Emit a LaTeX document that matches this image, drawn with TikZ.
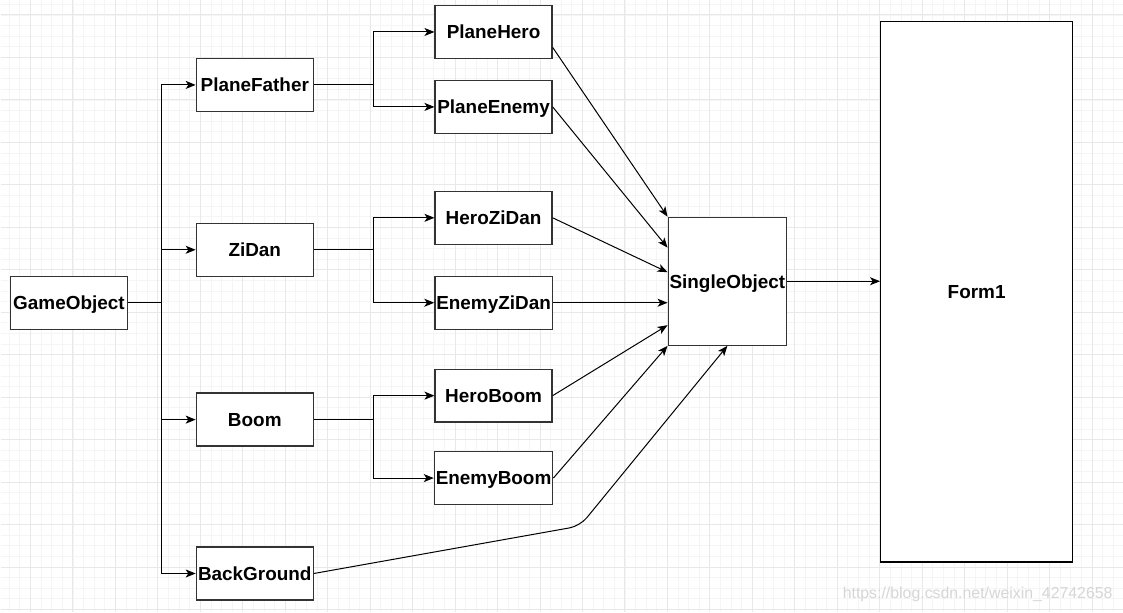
\documentclass[tikz,border=0pt]{standalone}
\usepackage{fontspec}
\setmainfont{Liberation Sans}
\usetikzlibrary{shapes, positioning, arrows.meta, calc}

\begin{document}
\begin{tikzpicture}[x=0.75pt, y=-0.75pt, line width=0.75pt,
        >={Stealth[length=7.5pt, width=6pt, inset=2pt]},
        main/.style = {draw=black!80, line width=1pt, fill=white,
                        minimum width=87.75pt, minimum height=39.75pt, inner sep=1pt,
                        text height=10.2pt, text depth=0pt,
                        font=\fontsize{14.2}{17}\selectfont\bfseries},
        gridminor/.style = {draw=black!4, line width=0.6pt},
        gridmajor/.style = {draw=black!9, line width=0.75pt}]
        % paper with grid
        \fill[white] (0,0) rectangle (1123,612);
        \foreach \i in {0,...,104} \draw[gridminor] ({8.75+10.625*\i},0) -- ++(0,612);
        \foreach \i in {0,...,57} \draw[gridminor] (0,{3.875+10.625*\i}) -- ++(1123,0);
        \foreach \i in {0,...,25} \draw[gridmajor] ({30+42.5*\i},0) -- ++(0,612);
        \foreach \i in {0,...,14} \draw[gridmajor] (0,{14.5+42.5*\i}) -- ++(1123,0);

        \node[main] (GameObject) at (68.5,302.5) {GameObject};

        \node[main] (PlaneFather) at (254.5,84.5) {PlaneFather};
        \node[main] (ZiDan) at (254.5,249.5) {ZiDan};
        \node[main] (Boom) at (254.5,419.5) {Boom};
        \node[main] (BackGround) at (254.5,573.5) {BackGround};

        \node[main] (PlaneHero) at (493.5,31.5) {PlaneHero};
        \node[main] (PlaneEnemy) at (493.5,106.5) {PlaneEnemy};
        \node[main] (HeroZiDan) at (493.5,217.5) {HeroZiDan};
        \node[main] (EnemyZiDan) at (493.5,302.5) {EnemyZiDan};
        \node[main] (HeroBoom) at (493.5,395.5) {HeroBoom};
        \node[main] (EnemyBoom) at (493.5,478) {EnemyBoom};

        \node[main, minimum height=96pt] (SingleObject) at (727.5,281) {SingleObject};
        \node[main, draw=black, minimum width=144pt, minimum height=405.75pt] (Form1) at (977,291.5) {Form1};

        \node[text=black!16, font=\fontsize{11.9}{14}\selectfont] (mark) at (978,594) {https://blog.csdn.net/weixin\_42742658};

        \coordinate (bus) at (161,302.5);
        \coordinate (pf) at (373,84.5);
        \coordinate (zd) at (373,249.5);
        \coordinate (bm) at (373,419.5);
        \coordinate (bend) at (580,526);

        \draw (GameObject) -- (bus);
        \foreach \n in {PlaneFather, ZiDan, Boom, BackGround}
            \draw[->] (bus) |- (\n.west);

        \draw (PlaneFather) -- (pf);
        \draw[->] (pf) |- (PlaneHero.west);
        \draw[->] (pf) |- (PlaneEnemy.west);
        \draw (ZiDan) -- (zd);
        \draw[->] (zd) |- (HeroZiDan.west);
        \draw[->] (zd) |- (EnemyZiDan.west);
        \draw (Boom) -- (bm);
        \draw[->] (bm) |- (HeroBoom.west);
        \draw[->] (bm) |- (EnemyBoom.west);

        \draw[->] ([yshift=-11.6pt]PlaneHero.east) -- (SingleObject.north west);
        \draw[->] (PlaneEnemy.east) -- ($(SingleObject.north west)!0.24!(SingleObject.south west)$);
        \draw[->] (HeroZiDan.east) -- ($(SingleObject.north west)!0.43!(SingleObject.south west)$);
        \draw[->] (EnemyZiDan) -- (EnemyZiDan -| SingleObject.west);
        \draw[->] (HeroBoom.east) -- ($(SingleObject.north west)!0.84!(SingleObject.south west)$);
        \draw[->] (EnemyBoom.east) -- (SingleObject.south west);
        \draw[->, rounded corners=8pt] (BackGround.east) -- (bend) -- (SingleObject.south);

        \draw[->] (SingleObject.east) -- (SingleObject.east -| Form1.west);
    \end{tikzpicture}
\end{document}
